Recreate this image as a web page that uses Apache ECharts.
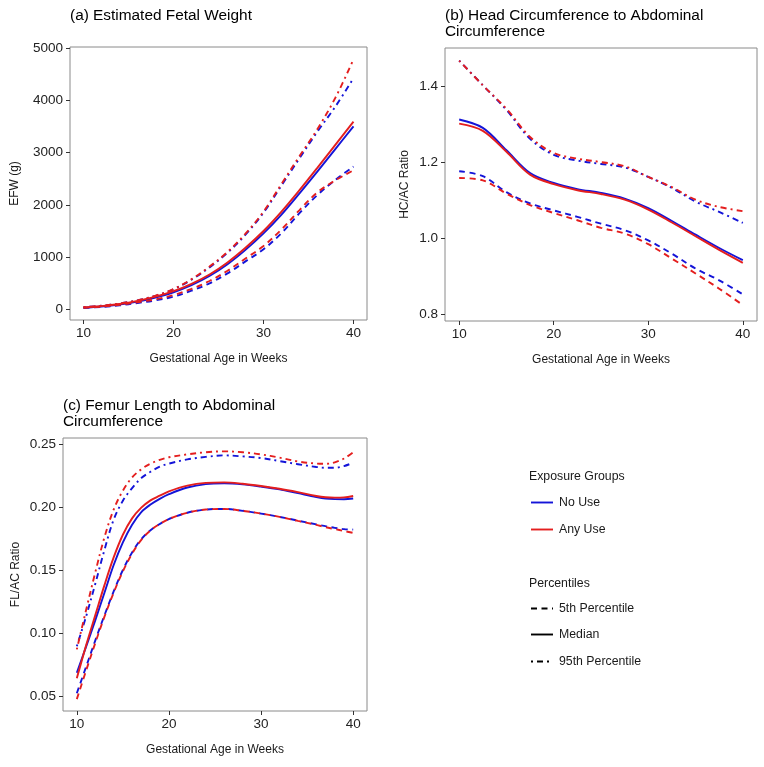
<!DOCTYPE html>
<html>
<head>
<meta charset="utf-8">
<script src="https://cdn.jsdelivr.net/npm/echarts@6/dist/echarts.min.js"></script>
<style>
  html, body { margin: 0; padding: 0; background: #fff; }
  #chart { width: 764px; height: 767px; }
</style>
</head>
<body>
<div id="chart"></div>
<script>
// ---------- Data ----------
const xTicks = [10, 20, 30, 40];

// (a) Estimated Fetal Weight
const weeksA = [10, 12, 14, 16, 18, 20, 22, 24, 26, 28, 30, 32, 34, 36, 38, 40];
const efwNoUse5   = [30, 50, 80, 125, 175, 245, 360, 500, 690, 920, 1150, 1460, 1840, 2190, 2480, 2730];
const efwAnyUse5  = [35, 55, 90, 140, 195, 275, 395, 545, 740, 975, 1215, 1530, 1900, 2240, 2470, 2660];
const efwNoUse50  = [35, 58, 95, 150, 230, 330, 465, 640, 865, 1140, 1455, 1815, 2220, 2640, 3070, 3500];
const efwAnyUse50 = [40, 65, 105, 165, 245, 350, 490, 670, 900, 1180, 1500, 1870, 2280, 2710, 3150, 3590];
const efwNoUse95  = [45, 72, 115, 175, 262, 385, 570, 805, 1085, 1430, 1850, 2370, 2890, 3400, 3880, 4420];
const efwAnyUse95 = [45, 72, 115, 175, 265, 390, 580, 820, 1100, 1450, 1870, 2400, 2930, 3450, 4050, 4780];
const efwTicks = [0, 1000, 2000, 3000, 4000, 5000];

// (b) HC/AC ratio
const weeksB = [10, 12.5, 15, 17.5, 20, 22.5, 25, 27.5, 30, 32.5, 35, 37.5, 40];
const hcNoUse5   = [1.177, 1.164, 1.122, 1.092, 1.074, 1.057, 1.039, 1.022, 0.995, 0.960, 0.921, 0.890, 0.853];
const hcAnyUse5  = [1.159, 1.153, 1.118, 1.088, 1.067, 1.048, 1.028, 1.013, 0.985, 0.947, 0.908, 0.868, 0.825];
const hcNoUse50  = [1.313, 1.291, 1.232, 1.172, 1.146, 1.130, 1.120, 1.105, 1.080, 1.046, 1.010, 0.975, 0.943];
const hcAnyUse50 = [1.302, 1.283, 1.228, 1.168, 1.143, 1.127, 1.117, 1.102, 1.076, 1.042, 1.006, 0.970, 0.936];
const hcNoUse95  = [1.468, 1.403, 1.338, 1.262, 1.220, 1.205, 1.196, 1.187, 1.162, 1.133, 1.097, 1.070, 1.041];
const hcAnyUse95 = [1.468, 1.403, 1.341, 1.267, 1.225, 1.210, 1.201, 1.190, 1.162, 1.135, 1.102, 1.083, 1.072];
const hcTicks = [0.8, 1.0, 1.2, 1.4];

// (c) FL/AC ratio
const weeksC = [10, 11, 12, 13, 14, 15, 16, 17, 18, 19, 20, 22, 24, 26, 28, 30, 32, 34, 36, 37, 38, 39, 40];
const flNoUse5   = [0.0522, 0.073, 0.094, 0.114, 0.133, 0.150, 0.164, 0.1745, 0.1815, 0.1865, 0.1905, 0.1955, 0.198, 0.1985, 0.197, 0.1948, 0.1922, 0.1892, 0.1862, 0.1848, 0.1835, 0.1825, 0.1821];
const flAnyUse5  = [0.0475, 0.070, 0.092, 0.113, 0.132, 0.149, 0.163, 0.174, 0.1815, 0.1865, 0.1905, 0.1955, 0.198, 0.1985, 0.197, 0.1948, 0.1922, 0.189, 0.1858, 0.184, 0.1825, 0.181, 0.1795];
const flNoUse50  = [0.0685, 0.089, 0.110, 0.132, 0.154, 0.172, 0.186, 0.196, 0.202, 0.2065, 0.2102, 0.2155, 0.2182, 0.2188, 0.2180, 0.2162, 0.2140, 0.2110, 0.2080, 0.2068, 0.2063, 0.2062, 0.2068];
const flAnyUse50 = [0.064, 0.090, 0.114, 0.138, 0.160, 0.178, 0.191, 0.1995, 0.2053, 0.209, 0.2125, 0.2170, 0.2192, 0.2196, 0.2185, 0.2167, 0.2145, 0.2118, 0.2088, 0.2078, 0.2075, 0.2077, 0.2088];
const flNoUse95  = [0.0895, 0.113, 0.139, 0.166, 0.190, 0.205, 0.215, 0.223, 0.228, 0.232, 0.2345, 0.2378, 0.2398, 0.241, 0.2402, 0.2389, 0.2365, 0.234, 0.2318, 0.2312, 0.2312, 0.2325, 0.2352];
const flAnyUse95 = [0.087, 0.118, 0.148, 0.176, 0.198, 0.213, 0.2235, 0.230, 0.2345, 0.2375, 0.2395, 0.2418, 0.2435, 0.2442, 0.2435, 0.2418, 0.2392, 0.2362, 0.2345, 0.2343, 0.2355, 0.2385, 0.2435];
const flTicks = [0.05, 0.10, 0.15, 0.20, 0.25];

const groupLabels = ['No Use', 'Any Use'];
const percentileLabels = ['5th Percentile', 'Median', '95th Percentile'];

// ---------- Styles ----------
const FONT = '"Liberation Sans", Arial, Helvetica, sans-serif';
const BLUE = '#1414d8';
const RED = '#e41e1e';
const DASH = [6, 4.5];
const DOTDASH = [2, 4, 6, 4];
const LW = 1.9;

function pairs(xs, ys) { return xs.map((x, i) => [x, ys[i]]); }

function mkSeries(idx, xs, ys, color, dash) {
  return {
    type: 'line', xAxisIndex: idx, yAxisIndex: idx,
    data: pairs(xs, ys), showSymbol: false, symbol: 'none',
    smooth: 0.35, silent: true,
    lineStyle: { color: color, width: LW, type: dash, cap: 'butt' },
    z: color === RED ? 3 : 2
  };
}

function xAxisFor(idx) {
  return {
    type: 'value', gridIndex: idx, min: 8.5, max: 41.5, position: 'bottom',
    name: 'Gestational Age in Weeks', nameLocation: 'middle', nameGap: 33,
    nameTextStyle: { fontFamily: FONT, fontSize: 12, color: '#1a1a1a' },
    axisLine: { show: false, onZero: false },
    axisTick: { show: true, length: 4, lineStyle: { color: '#333' }, customValues: xTicks },
    axisLabel: { fontFamily: FONT, fontSize: 13.5, color: '#222', margin: 6, customValues: xTicks },
    splitLine: { show: false }
  };
}

function yAxisFor(idx, min, max, ticks, name, gap, fmt) {
  return {
    type: 'value', gridIndex: idx, min: min, max: max, position: 'left',
    name: name, nameLocation: 'middle', nameGap: gap,
    nameTextStyle: { fontFamily: FONT, fontSize: 12, color: '#1a1a1a' },
    axisLine: { show: false, onZero: false },
    axisTick: { show: true, length: 4, lineStyle: { color: '#333' }, customValues: ticks },
    axisLabel: { fontFamily: FONT, fontSize: 13.5, color: '#222', margin: 7, customValues: ticks, formatter: fmt },
    splitLine: { show: false }
  };
}

const gridBase = { show: true, borderColor: '#8a8a8a', borderWidth: 1, backgroundColor: '#fff', containLabel: false, outerBoundsMode: 'none' };

// Legend graphic
const legendText = (x, y, t) => ({ type: 'text', x: x, y: y, style: { text: t, fontFamily: FONT, fontSize: 12.3, fill: '#1a1a1a', verticalAlign: 'middle', align: 'left' } });
const legendLine = (y, color, dash) => ({ type: 'line', shape: { x1: 531, y1: y, x2: 553, y2: y }, style: { stroke: color, lineWidth: LW, lineDash: dash } });

const graphics = [
  legendText(529, 477, 'Exposure Groups'),
  legendLine(502.5, BLUE, null), legendText(559, 502.5, groupLabels[0]),
  legendLine(529.5, RED, null), legendText(559, 529.5, groupLabels[1]),
  legendText(529, 583.5, 'Percentiles'),
  legendLine(608.5, '#000', DASH), legendText(559, 608.5, percentileLabels[0]),
  legendLine(634.5, '#000', null), legendText(559, 634.5, percentileLabels[1]),
  legendLine(661.5, '#000', DOTDASH), legendText(559, 661.5, percentileLabels[2])
];

const titleStyle = { fontFamily: FONT, fontSize: 15.4, fontWeight: 'normal', color: '#000', lineHeight: 16 };

const option = {
  animation: false,
  backgroundColor: '#fff',
  title: [
    { text: '(a) Estimated Fetal Weight', left: 70, top: 8, padding: 0, textStyle: titleStyle },
    { text: '(b) Head Circumference to Abdominal\nCircumference', left: 445, top: 8, padding: 0, textStyle: titleStyle },
    { text: '(c) Femur Length to Abdominal\nCircumference', left: 63, top: 398, padding: 0, textStyle: titleStyle }
  ],
  grid: [
    Object.assign({ left: 70, top: 47, width: 297, height: 273 }, gridBase),
    Object.assign({ left: 445, top: 48, width: 312, height: 273 }, gridBase),
    Object.assign({ left: 63, top: 438, width: 304, height: 273 }, gridBase)
  ],
  xAxis: [xAxisFor(0), xAxisFor(1), xAxisFor(2)],
  yAxis: [
    yAxisFor(0, -200, 5015, efwTicks, 'EFW (g)', 49, v => String(v)),
    yAxisFor(1, 0.783, 1.501, hcTicks, 'HC/AC Ratio', 34, v => v.toFixed(1)),
    yAxisFor(2, 0.0381, 0.2548, flTicks, 'FL/AC Ratio', 41.5, v => v.toFixed(2))
  ],
  series: [
    mkSeries(0, weeksA, efwNoUse5, BLUE, DASH),
    mkSeries(0, weeksA, efwNoUse50, BLUE, 'solid'),
    mkSeries(0, weeksA, efwNoUse95, BLUE, DOTDASH),
    mkSeries(0, weeksA, efwAnyUse5, RED, DASH),
    mkSeries(0, weeksA, efwAnyUse50, RED, 'solid'),
    mkSeries(0, weeksA, efwAnyUse95, RED, DOTDASH),

    mkSeries(1, weeksB, hcNoUse5, BLUE, DASH),
    mkSeries(1, weeksB, hcNoUse50, BLUE, 'solid'),
    mkSeries(1, weeksB, hcNoUse95, BLUE, DOTDASH),
    mkSeries(1, weeksB, hcAnyUse5, RED, DASH),
    mkSeries(1, weeksB, hcAnyUse50, RED, 'solid'),
    mkSeries(1, weeksB, hcAnyUse95, RED, DOTDASH),

    mkSeries(2, weeksC, flNoUse5, BLUE, DASH),
    mkSeries(2, weeksC, flNoUse50, BLUE, 'solid'),
    mkSeries(2, weeksC, flNoUse95, BLUE, DOTDASH),
    mkSeries(2, weeksC, flAnyUse5, RED, DASH),
    mkSeries(2, weeksC, flAnyUse50, RED, 'solid'),
    mkSeries(2, weeksC, flAnyUse95, RED, DOTDASH)
  ],
  graphic: graphics
};

const chart = echarts.init(document.getElementById('chart'), null, { renderer: 'canvas', width: 764, height: 767 });
chart.setOption(option);
</script>
</body>
</html>
